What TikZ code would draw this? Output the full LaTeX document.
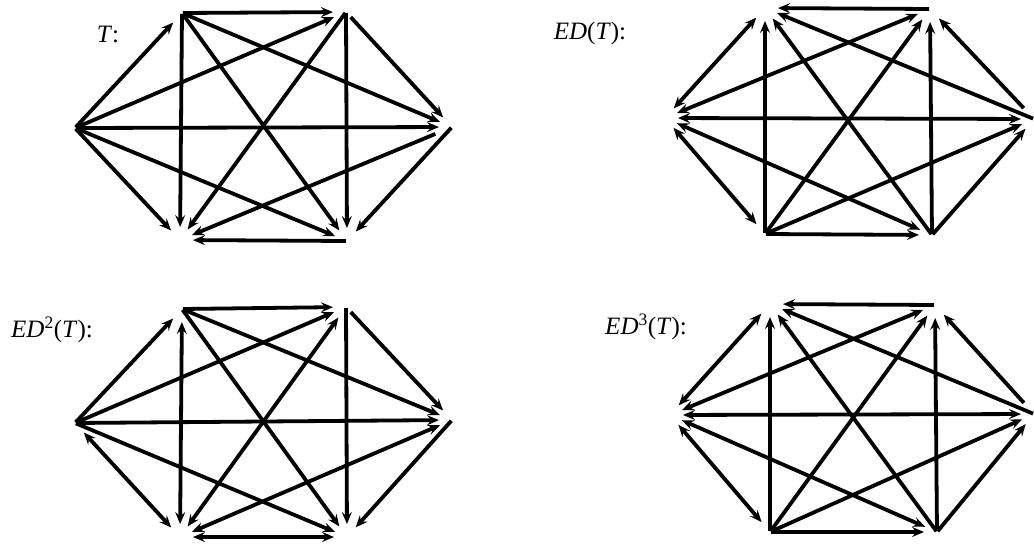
\documentclass[tikz,border=0pt]{standalone}
\usepackage{fontspec}
\setmainfont{Liberation Serif}
\usetikzlibrary{arrows.meta}
\tikzset{
  tip/.tip={Stealth[length=12pt,width=10pt,inset=4.5pt]},
  arc/.style={line width=3.8pt, shorten <=1pt, shorten >=13pt, -tip},
  biarc/.style={line width=3.8pt, shorten <=13pt, shorten >=13pt, tip-tip},
  lbl/.style={font=\fontsize{25}{30}\selectfont, inner sep=0pt}
}
\begin{document}
\begin{tikzpicture}[x=1pt,y=-1pt]
\useasboundingbox (0,0) rectangle (1034,544);
% ---------- hexagon T ----------
\coordinate (aL) at (75,128);
\coordinate (aTL) at (182,13);
\coordinate (aTR) at (346,12);
\coordinate (aR) at (452,127);
\coordinate (aBR) at (347,241);
\coordinate (aBL) at (180,240);
\node[lbl] (la) at (108,34) {\textit{T}:};
\draw[arc] (aL) -- (aTL);
\draw[arc] (aL) -- (aTR);
\draw[arc] (aL) -- (aR);
\draw[arc] (aL) -- (aBR);
\draw[arc] (aL) -- (aBL);
\draw[arc] (aTL) -- (aTR);
\draw[arc] (aTL) -- (aR);
\draw[arc] (aTL) -- (aBR);
\draw[arc] (aTL) -- (aBL);
\draw[arc, shorten <=7pt] (aTR) -- (aR);
\draw[arc] (aTR) -- (aBR);
\draw[arc] (aTR) -- (aBL);
\draw[arc] (aR) -- (aBR);
\draw[arc, shorten <=18pt] (aR) -- (aBL);
\draw[arc] (aBR) -- (aBL);
% ---------- hexagon ED(T) ----------
\coordinate (bL) at (665,118);
\coordinate (bTL) at (765,8);
\coordinate (bTR) at (930,9);
\coordinate (bR) at (1034,119);
\coordinate (bBR) at (932,235);
\coordinate (bBL) at (765,234);
\node[lbl] (lb) at (590,33) {\textit{ED}(\textit{T}):};
\draw[arc] (bTR) -- (bTL);
\draw[biarc] (bL) -- (bTL);
\draw[biarc] (bL) -- (bTR);
\draw[biarc] (bL) -- (bR);
\draw[biarc] (bL) -- (bBL);
\draw[biarc] (bL) -- (bBR);
\draw[arc] (bBL) -- (bTL);
\draw[arc] (bR) -- (bTL);
\draw[arc] (bBR) -- (bTL);
\draw[arc, shorten <=15pt] (bR) -- (bTR);
\draw[arc] (bBL) -- (bTR);
\draw[arc] (bBR) -- (bTR);
\draw[arc] (bBL) -- (bR);
\draw[arc] (bBR) -- (bR);
\draw[arc] (bBL) -- (bBR);
% ---------- hexagon ED^2(T) ----------
\coordinate (cL) at (75,423);
\coordinate (cTL) at (182,309);
\coordinate (cTR) at (346,307);
\coordinate (cR) at (452,420);
\coordinate (cBR) at (347,537);
\coordinate (cBL) at (180,537);
\node[lbl] (lc) at (52,330) {\textit{ED}\textsuperscript{2}(\textit{T}):};
\draw[arc] (cL) -- (cTL);
\draw[arc] (cL) -- (cTR);
\draw[arc] (cL) -- (cR);
\draw[arc] (cL) -- (cBR);
\draw[biarc] (cL) -- (cBL);
\draw[arc] (cTL) -- (cTR);
\draw[arc] (cTL) -- (cR);
\draw[arc] (cTL) -- (cBR);
\draw[biarc] (cTL) -- (cBL);
\draw[arc, shorten <=7pt] (cTR) -- (cR);
\draw[arc] (cTR) -- (cBR);
\draw[biarc] (cTR) -- (cBL);
\draw[arc] (cR) -- (cBR);
\draw[biarc] (cR) -- (cBL);
\draw[biarc] (cBR) -- (cBL);
% ---------- hexagon ED^3(T) ----------
\coordinate (dL) at (670,415);
\coordinate (dTL) at (770,304);
\coordinate (dTR) at (935,305);
\coordinate (dR) at (1034,414);
\coordinate (dBR) at (937,532);
\coordinate (dBL) at (770,532);
\node[lbl] (ld) at (646,327) {\textit{ED}\textsuperscript{3}(\textit{T}):};
\draw[arc] (dTR) -- (dTL);
\draw[biarc] (dL) -- (dTL);
\draw[biarc] (dL) -- (dTR);
\draw[biarc] (dL) -- (dR);
\draw[biarc] (dL) -- (dBL);
\draw[biarc] (dL) -- (dBR);
\draw[arc] (dBL) -- (dTL);
\draw[arc] (dR) -- (dTL);
\draw[arc] (dBR) -- (dTL);
\draw[arc, shorten <=15pt] (dR) -- (dTR);
\draw[arc] (dBL) -- (dTR);
\draw[arc] (dBR) -- (dTR);
\draw[arc] (dBL) -- (dR);
\draw[arc] (dBR) -- (dR);
\draw[arc] (dBL) -- (dBR);
\end{tikzpicture}
\end{document}
